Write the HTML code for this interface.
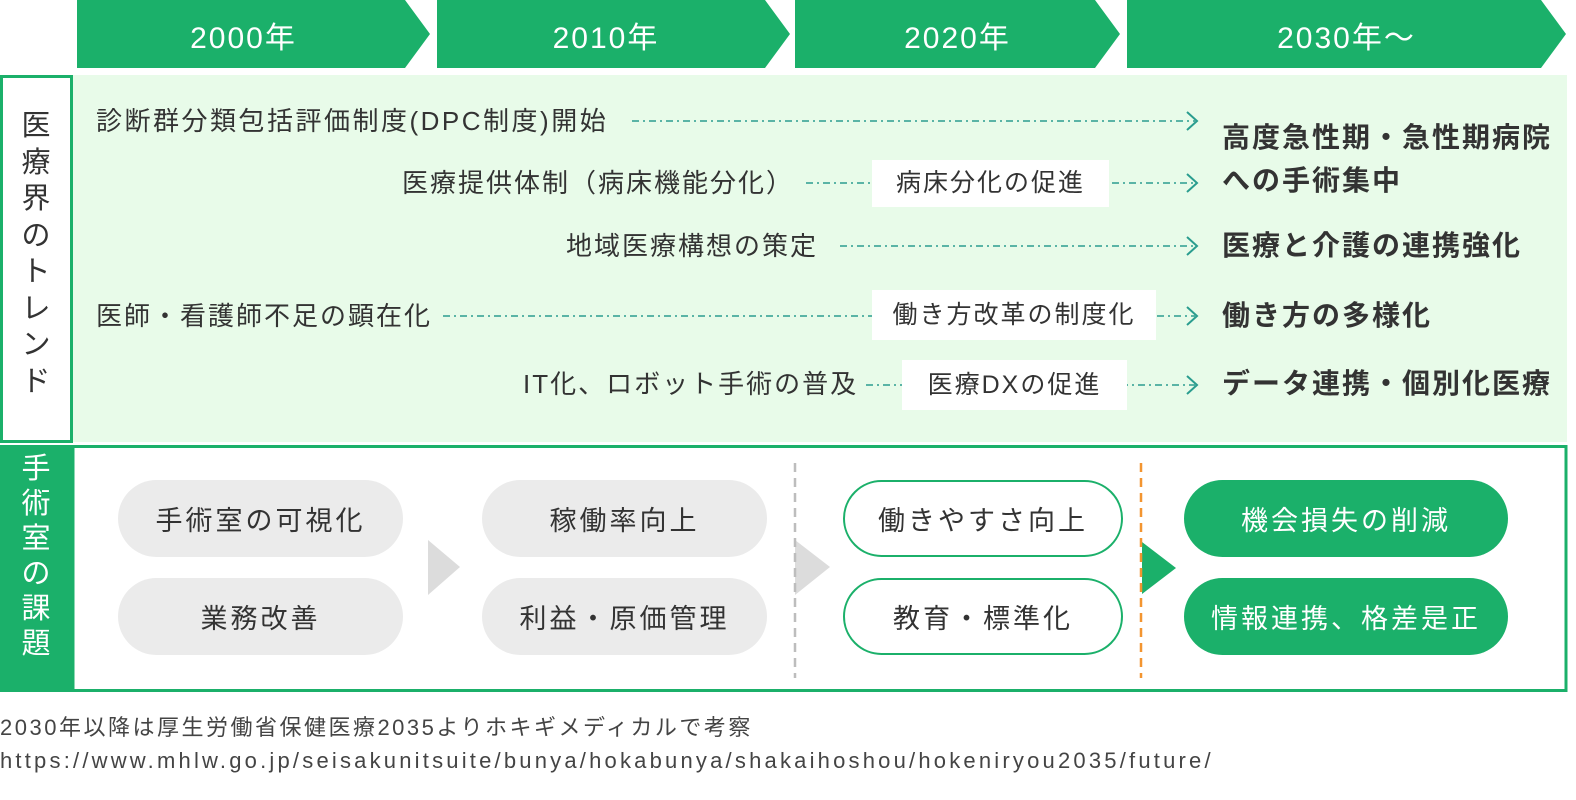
<!DOCTYPE html>
<html><head><meta charset="utf-8"><style>
*{margin:0;padding:0;box-sizing:border-box}
body{width:1576px;height:800px;background:#fff;position:relative;overflow:hidden;font-family:"Liberation Sans","Noto Sans CJK JP",sans-serif;color:#333}
.a{position:absolute;white-space:nowrap}
.t{font-size:26px;color:#333;line-height:30px;letter-spacing:2px}
.b{font-size:28px;font-weight:bold;color:#333;line-height:32px;letter-spacing:2px}
.lbl{position:absolute;background:#fff;font-size:25px;text-align:center;color:#333;letter-spacing:2px}
.pill{position:absolute;border-radius:40px;font-size:27px;display:flex;align-items:center;justify-content:center;letter-spacing:3px}
.g{background:#ebebeb;color:#333}
.o{background:#fff;border:2.5px solid #1bb06a;color:#333}
.f{background:#1bb06a;color:#fff}
.vert{position:absolute;display:flex;flex-direction:column;align-items:center;font-size:29px;line-height:36.5px}
.h{position:absolute;top:13px;color:#fff;font-size:30px;letter-spacing:2px;text-align:center}
</style></head><body>
<svg class="a" style="left:0;top:0" width="1576" height="800">
<g fill="#1bb06a">
<polygon points="77,0 405,0 430,34 405,68 77,68"/>
<polygon points="437,0 765,0 790,34 765,68 437,68"/>
<polygon points="795,0 1095,0 1120,34 1095,68 795,68"/>
<polygon points="1127,0 1541,0 1566,34 1541,68 1127,68"/>
</g>
<rect x="73" y="75" width="1494" height="367" fill="#e8fbe9"/>
<rect x="1.5" y="76.5" width="70" height="365" fill="#fff" stroke="#1bb06a" stroke-width="3"/>
<rect x="0" y="445" width="73" height="247" fill="#1bb06a"/>
<rect x="73" y="446.5" width="1493" height="244" fill="#fff" stroke="#1bb06a" stroke-width="3"/>
<g stroke="#2a9d8f" stroke-width="1.5" stroke-dasharray="7 4 2 4" fill="none">
<line x1="632" y1="121" x2="1195" y2="121"/>
<line x1="806" y1="183" x2="1195" y2="183"/>
<line x1="840" y1="246" x2="1195" y2="246"/>
<line x1="443" y1="316" x2="1195" y2="316"/>
<line x1="866" y1="385" x2="1195" y2="385"/>
</g>
<g stroke="#2a9d8f" stroke-width="2" fill="none">
<polyline points="1187,112 1197,121 1187,130"/>
<polyline points="1187,174 1197,183 1187,192"/>
<polyline points="1187,237 1197,246 1187,255"/>
<polyline points="1187,307 1197,316 1187,325"/>
<polyline points="1187,376 1197,385 1187,394"/>
</g>
<polygon points="428,540 460,567 428,595" fill="#dcdcdc"/>
<polygon points="795,540 830,567 795,595" fill="#dcdcdc"/>
<line x1="795" y1="463" x2="795" y2="678" stroke="#bdbdbd" stroke-width="2.5" stroke-dasharray="9 6"/>
<polygon points="1142,542 1176,568 1142,594" fill="#1bb06a"/>
<line x1="1141" y1="463" x2="1141" y2="678" stroke="#f39530" stroke-width="2.5" stroke-dasharray="9 6"/>
</svg>
<div class="h" style="left:77px;width:353px;padding-right:20px">2000年</div>
<div class="h" style="left:437px;width:353px;padding-right:15px">2010年</div>
<div class="h" style="left:795px;width:325px">2020年</div>
<div class="h" style="left:1127px;width:439px">2030年〜</div>
<div class="vert" style="left:0;top:108px;width:72px"><span>医</span><span>療</span><span>界</span><span>の</span><span>ト</span><span>レ</span><span>ン</span><span>ド</span></div>
<div class="vert" style="left:0;top:452px;width:72px;color:#fff;line-height:35px"><span>手</span><span>術</span><span>室</span><span>の</span><span>課</span><span>題</span></div>
<div class="a t" style="left:96px;top:106px;letter-spacing:2.5px">診断群分類包括評価制度(DPC制度)開始</div>
<div class="a t" style="left:402px;top:168px">医療提供体制（病床機能分化）</div>
<div class="a t" style="left:566px;top:231px">地域医療構想の策定</div>
<div class="a t" style="left:96px;top:301px">医師・看護師不足の顕在化</div>
<div class="a t" style="left:523px;top:369px">IT化、ロボット手術の普及</div>
<div class="lbl" style="left:872px;top:160px;width:237px;height:47px;line-height:47px">病床分化の促進</div>
<div class="lbl" style="left:872px;top:290px;width:284px;height:50px;line-height:50px">働き方改革の制度化</div>
<div class="lbl" style="left:902px;top:360px;width:225px;height:50px;line-height:50px">医療DXの促進</div>
<div class="a b" style="left:1222px;top:122px">高度急性期・急性期病院</div>
<div class="a b" style="left:1222px;top:165px">への手術集中</div>
<div class="a b" style="left:1222px;top:230px">医療と介護の連携強化</div>
<div class="a b" style="left:1222px;top:300px">働き方の多様化</div>
<div class="a b" style="left:1222px;top:368px">データ連携・個別化医療</div>
<div class="pill g" style="left:118px;top:480px;width:285px;height:77px">手術室の可視化</div>
<div class="pill g" style="left:118px;top:578px;width:285px;height:77px">業務改善</div>
<div class="pill g" style="left:482px;top:480px;width:285px;height:77px">稼働率向上</div>
<div class="pill g" style="left:482px;top:578px;width:285px;height:77px">利益・原価管理</div>
<div class="pill o" style="left:843px;top:480px;width:280px;height:77px">働きやすさ向上</div>
<div class="pill o" style="left:843px;top:578px;width:280px;height:77px">教育・標準化</div>
<div class="pill f" style="left:1184px;top:480px;width:324px;height:77px">機会損失の削減</div>
<div class="pill f" style="left:1184px;top:578px;width:324px;height:77px">情報連携、格差是正</div>
<div class="a" style="left:0;top:710px;font-size:22px;letter-spacing:2.5px;color:#444">2030年以降は厚生労働省保健医療2035よりホキギメディカルで考察</div>
<div class="a" style="left:0;top:748px;font-size:22px;letter-spacing:3.2px;color:#444">https://www.mhlw.go.jp/seisakunitsuite/bunya/hokabunya/shakaihoshou/hokeniryou2035/future/</div>
</body></html>
